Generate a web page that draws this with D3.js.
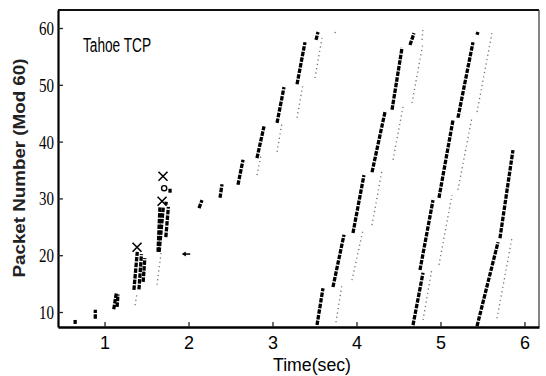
<!DOCTYPE html>
<html>
<head>
<meta charset="utf-8">
<script src="https://cdn.jsdelivr.net/npm/d3@7"></script>
<style>
  html, body { margin: 0; padding: 0; background: #fff; }
  svg { display: block; }
</style>
</head>
<body>
<svg id="chart" width="546" height="376"></svg>
<script>
// Axis ticks
const timeTicks = [1, 2, 3, 4, 5, 6];
const packetTicks = [10, 20, 30, 40, 50, 60];

// Packets arriving at the gateway, as runs: [tStart, pktStart, tEnd, pktEnd]
const sentRuns = [
  [0.65, 7.9, 0.65, 8.6],
  [0.89, 8.8, 0.89, 10.4],
  [1.11, 10.5, 1.14, 13.3],
  [1.15, 10.9, 1.16, 13.1],
  [1.35, 13.9, 1.39, 20.6],
  [1.41, 14.0, 1.44, 20.2],
  [1.46, 15.3, 1.48, 19.5],
  [1.637, 20.6, 1.66, 28.5],
  [1.65, 20.6, 1.70, 28.5],
  [1.73, 23.2, 1.76, 28.5],
  [1.73, 28.9, 1.735, 29.4],
  [1.78, 31.0, 1.78, 31.7],
  [2.125, 28.3, 2.161, 29.7],
  [2.375, 30.1, 2.399, 32.5],
  [2.589, 32.4, 2.649, 36.8],
  [2.815, 37.1, 2.899, 42.7],
  [3.054, 43.3, 3.137, 49.6],
  [3.292, 50.1, 3.387, 57.5],
  [3.518, 57.9, 3.542, 59.3],
  [3.530, 7.7, 3.601, 14.2],
  [3.720, 14.4, 3.851, 23.6],
  [3.958, 23.9, 4.089, 34.1],
  [4.185, 34.6, 4.339, 45.2],
  [4.423, 45.6, 4.542, 56.5],
  [4.637, 57.0, 4.685, 59.1],
  [4.673, 7.7, 4.792, 16.9],
  [4.756, 17.4, 4.911, 29.7],
  [4.982, 30.1, 5.149, 43.8],
  [5.208, 44.2, 5.387, 57.5],
  [5.435, 58.8, 5.446, 59.3],
  [5.435, 7.5, 5.685, 22.3],
  [5.708, 23.0, 5.863, 38.5]
];

// Packets leaving the gateway, as runs: [tStart, pktStart, tEnd, pktEnd]
const departRuns = [
  [1.363, 11.2, 1.387, 13.3],
  [1.625, 14.8, 1.673, 20.4],
  [2.815, 34.1, 2.863, 37.6],
  [3.054, 38.2, 3.113, 43.3],
  [3.292, 44.2, 3.363, 50.1],
  [3.506, 51.2, 3.589, 58.2],
  [3.744, 59.1, 3.756, 59.8],
  [3.756, 8.2, 3.827, 14.8],
  [3.946, 15.6, 4.077, 24.4],
  [4.185, 25.3, 4.304, 35.0],
  [4.435, 36.8, 4.554, 46.1],
  [4.661, 46.8, 4.792, 57.4],
  [4.780, 57.9, 4.792, 60.0],
  [4.792, 8.6, 4.899, 17.7],
  [4.982, 18.3, 5.137, 30.6],
  [5.208, 31.5, 5.375, 44.3],
  [5.435, 45.2, 5.613, 59.1],
  [5.673, 8.9, 5.851, 23.0]
];

// Dropped packets: [t, pkt]
const drops = [
  [1.387, 21.4],
  [1.685, 29.5],
  [1.696, 33.9]
];

// Retransmitted packet marker and the stray early packet
const openMarks = [[1.71, 31.8]];
const strayMarks = [[1.92, 20.2, 2.02, 20.2]];

const svg = d3.select("#chart");
const plotLeft = 58, plotRight = 539, plotTop = 10, plotBottom = 327;

const x = d3.scaleLinear().domain([0.446, 6.173]).range([plotLeft, plotRight]);
const y = d3.scaleLinear().domain([7.36, 63.17]).range([plotBottom, plotTop]);

// Frame: top and right edges
svg.append("line")
  .attr("x1", plotLeft).attr("x2", plotRight).attr("y1", plotTop).attr("y2", plotTop)
  .attr("stroke", "#111").attr("stroke-width", 2);
svg.append("line")
  .attr("x1", plotRight).attr("x2", plotRight).attr("y1", plotTop).attr("y2", plotBottom)
  .attr("stroke", "#333").attr("stroke-width", 1.2);

// Axes with inward ticks
const xAxis = svg.append("g")
  .attr("transform", `translate(0,${plotBottom})`)
  .call(d3.axisBottom(x).tickValues(timeTicks).tickSize(-5).tickSizeOuter(0).tickFormat(d3.format("d")));
xAxis.select(".domain").attr("stroke", "#000").attr("stroke-width", 2.6);
xAxis.selectAll(".tick line").attr("stroke", "#222").attr("stroke-width", 1.3);
xAxis.selectAll(".tick text")
  .attr("y", 22).attr("dy", null)
  .attr("font-family", "Liberation Sans, Arial, sans-serif")
  .attr("font-size", 19).attr("fill", "#000")
  .attr("textLength", 10).attr("lengthAdjust", "spacingAndGlyphs");

const yAxis = svg.append("g")
  .attr("transform", `translate(${plotLeft},0)`)
  .call(d3.axisLeft(y).tickValues(packetTicks).tickSize(-5).tickSizeOuter(0).tickFormat(d3.format("d")));
yAxis.select(".domain").attr("stroke", "#000").attr("stroke-width", 2.2);
yAxis.selectAll(".tick line").attr("stroke", "#222").attr("stroke-width", 1.3);
yAxis.selectAll(".tick text")
  .attr("x", -4).attr("dy", "0.36em")
  .attr("font-family", "Liberation Serif, Times New Roman, serif")
  .attr("font-size", 18).attr("fill", "#000")
  .attr("textLength", 15).attr("lengthAdjust", "spacingAndGlyphs");
svg.selectAll(".domain").attr("fill", "none");

// Plot marks
const plot = svg.append("g");

plot.selectAll("line.depart")
  .data(departRuns)
  .join("line")
  .attr("class", "depart")
  .attr("x1", d => x(d[0])).attr("y1", d => y(d[1]))
  .attr("x2", d => x(d[2])).attr("y2", d => y(d[3]))
  .attr("stroke", "#6f6f6f")
  .attr("stroke-width", 1.3)
  .attr("stroke-dasharray", "1.2,3.2");

plot.selectAll("line.sent")
  .data(sentRuns)
  .join("line")
  .attr("class", "sent")
  .attr("x1", d => x(d[0])).attr("y1", d => y(d[1]))
  .attr("x2", d => x(d[2])).attr("y2", d => y(d[3]))
  .attr("stroke", "#000")
  .attr("stroke-width", 3.3)
  .attr("stroke-dasharray", "4.5,1.2");

plot.selectAll("path.drop")
  .data(drops)
  .join("path")
  .attr("class", "drop")
  .attr("d", d => {
    const cx = x(d[0]), cy = y(d[1]), r = 4.5;
    return `M${cx - r},${cy - r}L${cx + r},${cy + r}M${cx + r},${cy - r}L${cx - r},${cy + r}`;
  })
  .attr("stroke", "#000")
  .attr("stroke-width", 1.6)
  .attr("fill", "none");

plot.selectAll("circle.open")
  .data(openMarks)
  .join("circle")
  .attr("class", "open")
  .attr("cx", d => x(d[0])).attr("cy", d => y(d[1]))
  .attr("r", 2.6)
  .attr("fill", "#fff")
  .attr("stroke", "#000")
  .attr("stroke-width", 1.4);

plot.selectAll("g.stray")
  .data(strayMarks)
  .join("g")
  .attr("class", "stray")
  .each(function (d) {
    const g = d3.select(this);
    const x1 = x(d[0]), x2 = x(d[2]), yy = y(d[1]);
    g.append("line")
      .attr("x1", x1 + 2).attr("x2", x2).attr("y1", yy).attr("y2", yy)
      .attr("stroke", "#000").attr("stroke-width", 1.5);
    g.append("path")
      .attr("d", `M${x1},${yy}L${x1 + 4},${yy - 2.5}L${x1 + 4},${yy + 2.5}Z`)
      .attr("fill", "#000");
  });

// Labels
svg.append("text")
  .attr("x", 83).attr("y", 52)
  .attr("font-family", "Liberation Sans, Arial, sans-serif")
  .attr("font-size", 20)
  .attr("textLength", 68).attr("lengthAdjust", "spacingAndGlyphs")
  .attr("fill", "#000")
  .text("Tahoe TCP");

svg.append("text")
  .attr("x", 312).attr("y", 371)
  .attr("text-anchor", "middle")
  .attr("font-family", "Liberation Sans, Arial, sans-serif")
  .attr("font-size", 18)
  .attr("textLength", 78).attr("lengthAdjust", "spacingAndGlyphs")
  .attr("fill", "#000")
  .text("Time(sec)");

svg.append("text")
  .attr("transform", "translate(25,168) rotate(-90)")
  .attr("text-anchor", "middle")
  .attr("font-family", "Liberation Sans, Arial, sans-serif")
  .attr("font-size", 16)
  .attr("font-weight", "bold")
  .attr("textLength", 219).attr("lengthAdjust", "spacingAndGlyphs")
  .attr("fill", "#222")
  .text("Packet Number (Mod 60)");
</script>
</body>
</html>
